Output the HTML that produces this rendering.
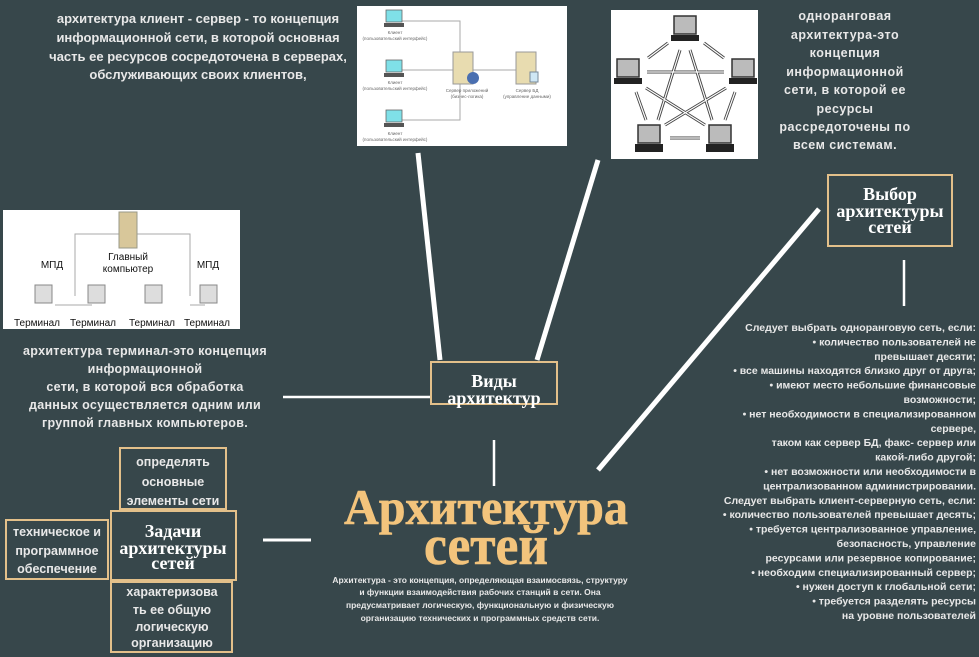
<!DOCTYPE html>
<html><head><meta charset="utf-8"><style>
html,body{margin:0;padding:0;background:#37474b;}
svg{display:block}
.w{font-family:"Liberation Sans","DejaVu Sans",sans-serif;font-weight:bold;fill:#e8e8e8;}
.s{font-family:"Liberation Serif","DejaVu Serif",serif;font-weight:bold;fill:#fff;}
</style></head><body>
<svg width="979" height="657" viewBox="0 0 979 657" xmlns="http://www.w3.org/2000/svg">
<rect width="979" height="657" fill="#37474b"/>
<g stroke="#fff" stroke-linecap="butt">
<line x1="418" y1="153" x2="440" y2="360" stroke-width="5"/>
<line x1="598" y1="160" x2="537" y2="360" stroke-width="5"/>
<line x1="283" y1="397" x2="431" y2="397" stroke-width="2.5"/>
<line x1="494" y1="440" x2="494" y2="486" stroke-width="2.5"/>
<line x1="819" y1="209" x2="598" y2="470" stroke-width="5"/>
<line x1="904" y1="260" x2="904" y2="306" stroke-width="2.5"/>
<line x1="263" y1="540" x2="311" y2="540" stroke-width="3"/>
</g>
<rect x="357" y="6" width="210" height="140" fill="#fff"/>
<g stroke="#aaa" fill="none" stroke-width="1">
<polyline points="395,21 460,21 460,60"/><line x1="395" y1="70" x2="520" y2="70"/><polyline points="395,120 460,120 460,80"/>
</g>
<g fill="#7fe0e8" stroke="#666" stroke-width="0.8">
<rect x="386" y="10" width="16" height="12"/><rect x="386" y="60" width="16" height="12"/><rect x="386" y="110" width="16" height="12"/>
</g>
<g fill="#555"><rect x="384" y="23" width="20" height="4"/><rect x="384" y="73" width="20" height="4"/><rect x="384" y="123" width="20" height="4"/></g>
<rect x="453" y="52" width="20" height="32" fill="#e8dcb0" stroke="#999"/>
<circle cx="473" cy="78" r="6" fill="#4a6fb0"/>
<rect x="516" y="52" width="20" height="32" fill="#e8dcb0" stroke="#999"/>
<rect x="530" y="72" width="8" height="10" fill="#cfe7f5" stroke="#789"/>
<g font-family="Liberation Sans,sans-serif" font-size="4.5" fill="#666" text-anchor="middle">
<text x="395" y="34">Клиент</text><text x="395" y="40">(пользовательский интерфейс)</text>
<text x="395" y="84">Клиент</text><text x="395" y="90">(пользовательский интерфейс)</text>
<text x="395" y="135">Клиент</text><text x="395" y="141">(пользовательский интерфейс)</text>
<text x="467" y="92">Сервер приложений</text><text x="467" y="98">(бизнес-логика)</text>
<text x="527" y="92">Сервер БД</text><text x="527" y="98">(управление данными)</text>
</g>
<rect x="611" y="10" width="147" height="149" fill="#fff"/>
<g fill="#bbb" stroke="#333" stroke-width="1.5">
<rect x="674" y="16" width="22" height="18"/><rect x="617" y="59" width="22" height="18"/><rect x="732" y="59" width="22" height="18"/>
<rect x="638" y="125" width="22" height="18"/><rect x="709" y="125" width="22" height="18"/>
</g>
<g fill="#222"><rect x="671" y="35" width="28" height="6"/><rect x="614" y="78" width="28" height="6"/><rect x="729" y="78" width="28" height="6"/><rect x="635" y="144" width="28" height="8"/><rect x="706" y="144" width="28" height="8"/></g>
<g stroke="#444" stroke-width="3" fill="none">
<line x1="648" y1="58" x2="668" y2="43"/><line x1="704" y1="43" x2="724" y2="58"/>
<line x1="647" y1="72" x2="724" y2="72"/><line x1="636" y1="92" x2="646" y2="120"/><line x1="735" y1="92" x2="725" y2="120"/>
<line x1="670" y1="138" x2="700" y2="138"/><line x1="680" y1="50" x2="658" y2="120"/><line x1="690" y1="50" x2="712" y2="120"/>
<line x1="646" y1="88" x2="705" y2="125"/><line x1="726" y1="88" x2="665" y2="125"/>
</g>
<g stroke="#fff" stroke-width="1.2" fill="none">
<line x1="648" y1="58" x2="668" y2="43"/><line x1="704" y1="43" x2="724" y2="58"/>
<line x1="647" y1="72" x2="724" y2="72"/><line x1="636" y1="92" x2="646" y2="120"/><line x1="735" y1="92" x2="725" y2="120"/>
<line x1="670" y1="138" x2="700" y2="138"/><line x1="680" y1="50" x2="658" y2="120"/><line x1="690" y1="50" x2="712" y2="120"/>
<line x1="646" y1="88" x2="705" y2="125"/><line x1="726" y1="88" x2="665" y2="125"/>
</g>
<rect x="3" y="210" width="237" height="119" fill="#fff"/>
<g stroke="#aaa" fill="none"><polyline points="75,296 75,234 190,234 190,296"/><line x1="55" y1="305" x2="92" y2="305"/><line x1="190" y1="305" x2="205" y2="305"/></g>
<rect x="119" y="212" width="18" height="36" fill="#d8c79a" stroke="#998"/>
<g fill="#ddd" stroke="#888"><rect x="35" y="285" width="17" height="18"/><rect x="88" y="285" width="17" height="18"/><rect x="145" y="285" width="17" height="18"/><rect x="200" y="285" width="17" height="18"/></g>
<g font-family="Liberation Sans,sans-serif" font-size="10" fill="#111" text-anchor="middle">
<text x="128" y="260">Главный</text><text x="128" y="272">компьютер</text>
<text x="52" y="268">МПД</text><text x="208" y="268">МПД</text>
<text x="37" y="326">Терминал</text><text x="93" y="326">Терминал</text><text x="152" y="326">Терминал</text><text x="207" y="326">Терминал</text>
</g>
<g class="w" font-size="13" text-anchor="middle">
<text x="198" y="23">архитектура клиент - сервер - то концепция</text>
<text x="198" y="42">информационной сети, в которой основная</text>
<text x="198" y="61">часть ее ресурсов сосредоточена в серверах,</text>
<text x="198" y="79">обслуживающих своих клиентов,</text>
</g>
<g class="w" font-size="12.5" text-anchor="middle" letter-spacing="0.5">
<text x="845" y="20">одноранговая</text><text x="845" y="39">архитектура-это</text><text x="845" y="57">концепция</text>
<text x="845" y="76">информационной</text><text x="845" y="94">сети, в которой ее</text><text x="845" y="113">ресурсы</text>
<text x="845" y="131">рассредоточены по</text><text x="845" y="149">всем системам.</text>
</g>
<g class="w" font-size="12.5" text-anchor="middle" letter-spacing="0.3">
<text x="145" y="355">архитектура терминал-это концепция</text><text x="145" y="373">информационной</text>
<text x="145" y="391">сети, в которой вся обработка</text><text x="145" y="409">данных осуществляется одним или</text>
<text x="145" y="427">группой главных компьютеров.</text>
</g>
<g class="w" font-size="10.5" text-anchor="end">
<text x="976" y="331">Следует выбрать одноранговую сеть, если:</text>
<text x="976" y="345.4">• количество пользователей не</text>
<text x="976" y="359.8">превышает десяти;</text>
<text x="976" y="374.2">• все машины находятся близко друг от друга;</text>
<text x="976" y="388.6">• имеют место небольшие финансовые</text>
<text x="976" y="403">возможности;</text>
<text x="976" y="417.4">• нет необходимости в специализированном</text>
<text x="976" y="431.8">сервере,</text>
<text x="976" y="446.2">таком как сервер БД, факс- сервер или</text>
<text x="976" y="460.6">какой-либо другой;</text>
<text x="976" y="475">• нет возможности или необходимости в</text>
<text x="976" y="489.4">централизованном администрировании.</text>
<text x="976" y="503.8">Следует выбрать клиент-серверную сеть, если:</text>
<text x="976" y="518.2">• количество пользователей превышает десять;</text>
<text x="976" y="532.6">• требуется централизованное управление,</text>
<text x="976" y="547">безопасность, управление</text>
<text x="976" y="561.4">ресурсами или резервное копирование;</text>
<text x="976" y="575.8">• необходим специализированный сервер;</text>
<text x="976" y="590.2">• нужен доступ к глобальной сети;</text>
<text x="976" y="604.6">• требуется разделять ресурсы</text>
<text x="976" y="619">на уровне пользователей</text>
</g>
<g fill="none" stroke="#e3c08a" stroke-width="2">
<rect x="828" y="175" width="124" height="71"/>
<rect x="431" y="362" width="126" height="42"/>
<rect x="120" y="448" width="106" height="61"/>
<rect x="111" y="511" width="125" height="69"/>
<rect x="6" y="520" width="102" height="59"/>
<rect x="111" y="582" width="121" height="70"/>
</g>
<g class="s" font-size="18" text-anchor="middle">
<text x="890" y="200">Выбор</text><text x="890" y="217">архитектуры</text><text x="890" y="233">сетей</text>
<text x="494" y="387">Виды</text><text x="494" y="404">архитектур</text>
<text x="173" y="537">Задачи</text><text x="173" y="554">архитектуры</text><text x="173" y="569">сетей</text>
</g>
<g class="w" font-size="12.5" text-anchor="middle">
<text x="173" y="466">определять</text><text x="173" y="486">основные</text><text x="173" y="505">элементы сети</text>
<text x="57" y="536">техническое и</text><text x="57" y="555">программное</text><text x="57" y="573">обеспечение</text>
<text x="172" y="596">характеризова</text><text x="172" y="614">ть ее общую</text><text x="172" y="631">логическую</text><text x="172" y="647">организацию</text>
</g>
<g font-family="Liberation Serif,serif" font-weight="bold" fill="#f3c47c" stroke="#f3c47c" stroke-width="0.6" text-anchor="middle">
<text x="486" y="524" font-size="50" textLength="284" lengthAdjust="spacingAndGlyphs">Архитектура</text>
<text x="486" y="564" font-size="56" textLength="124" lengthAdjust="spacingAndGlyphs">сетей</text>
</g>
<g class="w" font-size="8.5" text-anchor="middle">
<text x="480" y="583">Архитектура - это концепция, определяющая взаимосвязь, структуру</text>
<text x="480" y="595">и функции взаимодействия рабочих станций в сети. Она</text>
<text x="480" y="608">предусматривает логическую, функциональную и физическую</text>
<text x="480" y="621">организацию технических и программных средств сети.</text>
</g>
</svg>
</body></html>
